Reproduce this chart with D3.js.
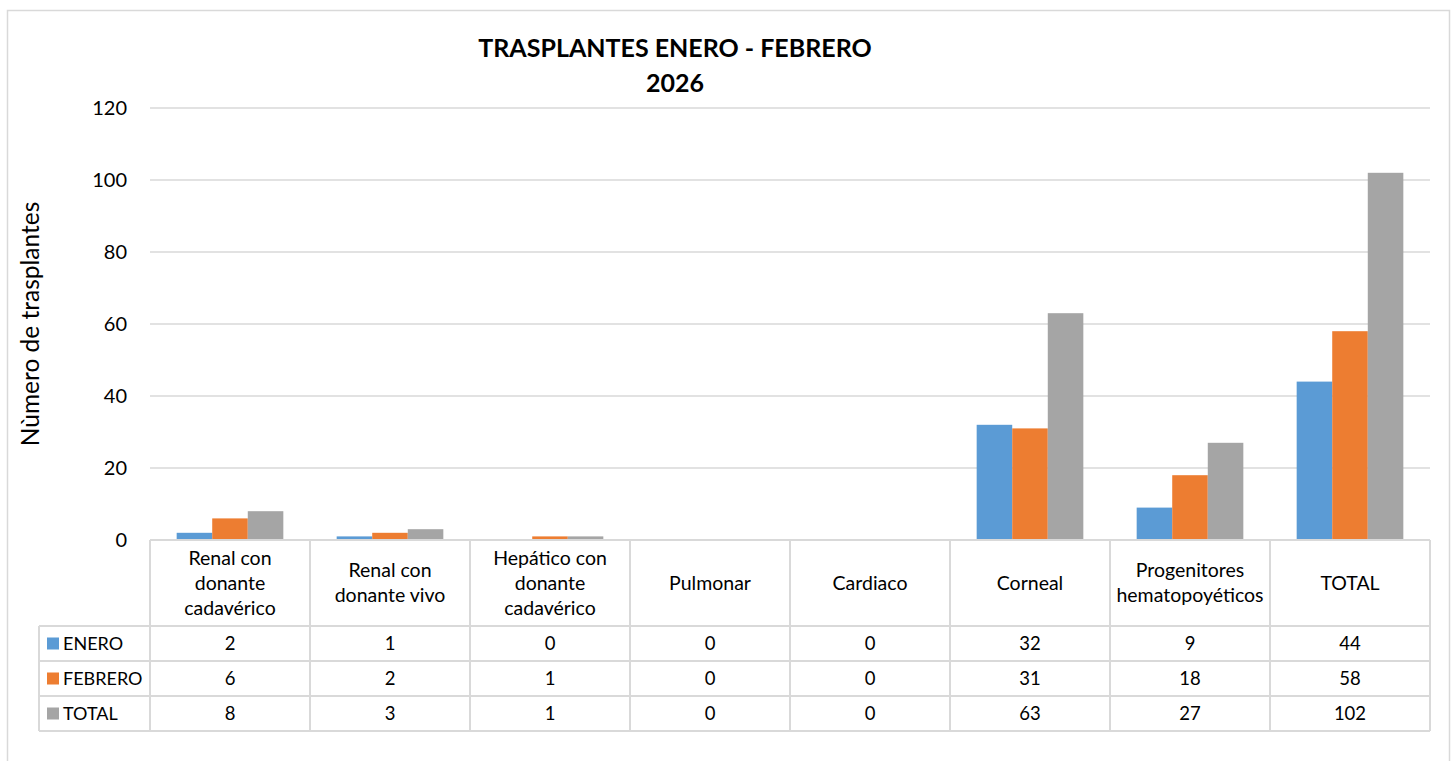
<!DOCTYPE html>
<html><head><meta charset="utf-8">
<script src="https://cdn.jsdelivr.net/npm/d3@7"></script>
<style>body{margin:0;background:#fff}svg{display:block;font-family:Lato,"Open Sans",sans-serif}</style>
</head><body><svg id="c" width="1455" height="761"></svg>
<script>
const categories = [["Renal con","donante","cadavérico"],["Renal con","donante vivo"],["Hepático con","donante","cadavérico"],["Pulmonar"],["Cardiaco"],["Corneal"],["Progenitores","hematopoyéticos"],["TOTAL"]];
const seriesNames = ["ENERO","FEBRERO","TOTAL"];
const enero = [2,1,0,0,0,32,9,44];
const febrero = [6,2,1,0,0,31,18,58];
const total = [8,3,1,0,0,63,27,102];
const colors = ["#5B9BD5","#ED7D31","#A5A5A5"];
const yTicks = [0,20,40,60,80,100,120];
const series = [enero,febrero,total];

const svg = d3.select("#c");
svg.append("rect").attr("x",7.5).attr("y",10.5).attr("width",1442).attr("height",770).attr("fill","#fff").attr("stroke","#d9d9d9").attr("stroke-width",1.5);

const L=150,R=1430,T=108,B=540;
const x = d3.scaleBand().domain(d3.range(categories.length)).range([L,R]);
const y = d3.scaleLinear().domain([0,120]).range([B,T]);

// gridlines
svg.append("g").selectAll("line").data(yTicks.filter(d=>d>0)).join("line")
  .attr("x1",L).attr("x2",R).attr("y1",d=>y(d)).attr("y2",d=>y(d)).attr("stroke","#d9d9d9").attr("stroke-width",1.3);
// tick labels
svg.append("g").selectAll("text").data(yTicks).join("text")
  .attr("x",127).attr("y",d=>y(d)+7).attr("text-anchor","end").attr("font-size",20).attr("fill","#000").text(d=>d);

// bars (gap width 150%)
const bw = x.bandwidth()/4.5;
series.forEach((s,si)=>{
  svg.append("g").selectAll("rect").data(s).join("rect")
    .attr("x",(d,i)=>x(i)+bw*0.75+si*bw).attr("width",bw)
    .attr("y",d=>y(d)).attr("height",d=>B-y(d)).attr("fill",colors[si]);
});

// title
svg.append("text").attr("x",675).attr("y",57).attr("text-anchor","middle").attr("font-weight","bold").attr("font-size",25).text("TRASPLANTES ENERO - FEBRERO");
svg.append("text").attr("x",675).attr("y",92).attr("text-anchor","middle").attr("font-weight","bold").attr("font-size",25).text("2026");

// y axis title
svg.append("text").attr("transform","translate(39,324) rotate(-90)").attr("text-anchor","middle").attr("font-size",24.5).text("Nùmero de trasplantes");

// data table
const rowY=[540,626,661,696,731];
const tg = svg.append("g").attr("stroke","#d9d9d9").attr("stroke-width",2);
tg.append("line").attr("x1",L).attr("x2",R).attr("y1",rowY[0]).attr("y2",rowY[0]);
rowY.slice(1).forEach(yy=>tg.append("line").attr("x1",39).attr("x2",R).attr("y1",yy).attr("y2",yy));
d3.range(categories.length+1).forEach(i=>{
  const xx = i<categories.length? x(i): R;
  tg.append("line").attr("x1",xx).attr("x2",xx).attr("y1",rowY[0]).attr("y2",rowY[4]);
});
tg.append("line").attr("x1",39).attr("x2",39).attr("y1",rowY[1]).attr("y2",rowY[4]);

// header text
categories.forEach((lines,i)=>{
  const cx = x(i)+x.bandwidth()/2;
  const lh=25, mid=(rowY[0]+rowY[1])/2;
  const t = svg.append("text").attr("text-anchor","middle").attr("font-size",19.5);
  lines.forEach((ln,j)=>{
    t.append("tspan").attr("x",cx).attr("y",mid+(j-(lines.length-1)/2)*lh+6.5).text(ln);
  });
});
// values
series.forEach((s,si)=>{
  const c=(rowY[si+1]+rowY[si+2])/2;
  svg.append("g").selectAll("text").data(s).join("text")
    .attr("x",(d,i)=>x(i)+x.bandwidth()/2).attr("y",c+6.5).attr("text-anchor","middle").attr("font-size",18.5).text(d=>d);
  svg.append("rect").attr("x",47).attr("y",c-6).attr("width",12).attr("height",12).attr("fill",colors[si]);
  svg.append("text").attr("x",63).attr("y",c+6.5).attr("font-size",18).text(seriesNames[si]);
});
</script></body></html>
